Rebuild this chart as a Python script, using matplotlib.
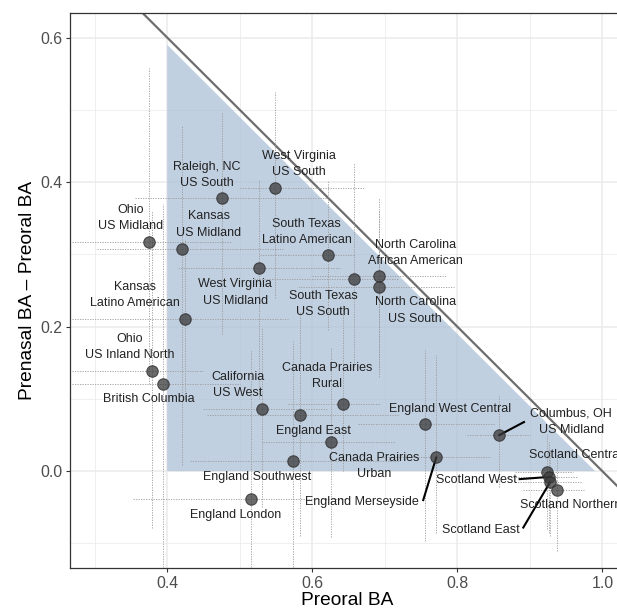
import matplotlib
matplotlib.use("Agg")
import matplotlib.pyplot as plt

plt.rcParams["font.family"] = ["Liberation Sans", "DejaVu Sans"]

# point labels and values (preoral BA, prenasal - preoral BA)
names = [
    "Ohio\nUS Midland", "Kansas\nUS Midland", "Raleigh, NC\nUS South",
    "West Virginia\nUS South", "West Virginia\nUS Midland",
    "South Texas\nLatino American", "South Texas\nUS South",
    "North Carolina\nAfrican American", "North Carolina\nUS South",
    "Kansas\nLatino American", "Ohio\nUS Inland North", "British Columbia",
    "California\nUS West", "England East", "Canada Prairies\nRural",
    "Canada Prairies\nUrban", "England Southwest", "England London",
    "England West Central", "England Merseyside", "Columbus, OH\nUS Midland",
    "Scotland Central", "Scotland West", "Scotland East", "Scotland Northern",
]
preoral = [0.375, 0.421, 0.476, 0.549, 0.527, 0.622, 0.658, 0.692, 0.692,
           0.425, 0.379, 0.394, 0.531, 0.583, 0.643, 0.626, 0.574, 0.516,
           0.756, 0.771, 0.858, 0.924, 0.926, 0.928, 0.937]
diff = [0.317, 0.307, 0.378, 0.392, 0.281, 0.299, 0.266, 0.270, 0.255,
        0.211, 0.139, 0.120, 0.086, 0.078, 0.093, 0.040, 0.014, -0.039,
        0.065, 0.019, 0.050, -0.001, -0.008, -0.015, -0.026]

# ranges shown as dotted crosshairs
x_lo = [0.269, 0.303, 0.356, 0.500, 0.415, 0.528, 0.520, 0.600, 0.580,
        0.269, 0.269, 0.269, 0.450, 0.455, 0.566, 0.532, 0.432, 0.353,
        0.663, 0.690, 0.814, 0.880, 0.870, 0.880, 0.890]
x_hi = [0.490, 0.560, 0.620, 0.673, 0.640, 0.657, 0.720, 0.786, 0.795,
        0.566, 0.450, 0.500, 0.620, 0.720, 0.694, 0.714, 0.720, 0.646,
        0.852, 0.846, 0.900, 0.960, 0.965, 0.970, 0.975]
y_lo = [0.120, 0.008, 0.190, 0.240, 0.100, 0.195, 0.140, 0.140, 0.130,
        0.100, -0.078, -0.132, -0.050, -0.090, 0.000, -0.091, -0.140, -0.140,
        -0.096, -0.086, -0.022, -0.080, -0.085, -0.090, -0.110]
y_hi = [0.558, 0.479, 0.497, 0.525, 0.403, 0.403, 0.427, 0.378, 0.360,
        0.320, 0.360, 0.370, 0.200, 0.220, 0.230, 0.170, 0.180, 0.168,
        0.168, 0.161, 0.105, 0.050, 0.040, 0.030, 0.020]

# where the labels sit (layout)
label_pos = [
    (0.349, 0.350), (0.457, 0.341), (0.455, 0.410), (0.582, 0.425),
    (0.494, 0.247), (0.592, 0.331), (0.615, 0.231), (0.742, 0.302),
    (0.742, 0.222), (0.356, 0.244), (0.348, 0.172), (0.374, 0.100),
    (0.497, 0.119), (0.601, 0.055), (0.621, 0.132), (0.686, 0.007),
    (0.524, -0.008), (0.494, -0.061), (0.790, 0.086), (0.668, -0.043),
    (0.957, 0.069), (0.963, 0.022), (0.826, -0.012), (0.832, -0.082),
    (0.956, -0.047),
]
# leader lines: label index -> end near the label
leaders = {20: (0.892, 0.068), 19: (0.753, -0.040),
           22: (0.886, -0.011), 23: (0.891, -0.078)}

# shaded region and the x + y = 1 boundary
tri_x = [0.4, 0.4, 0.99]
tri_y = [0.0, 0.59, 0.0]
line_x = [0.2, 1.2]

fig = plt.figure(figsize=(6.17, 6.15), dpi=100)
ax = fig.add_axes([0.1135, 0.0764, 0.898, 0.9025])
ax.set_xlim(0.266, 1.03)
ax.set_ylim(-0.134, 0.634)

ax.set_xticks([0.4, 0.6, 0.8, 1.0])
ax.set_yticks([0.0, 0.2, 0.4, 0.6])
ax.set_xticks([0.3, 0.5, 0.7, 0.9], minor=True)
ax.set_yticks([-0.1, 0.1, 0.3, 0.5], minor=True)
ax.set_xticklabels(["0.4", "0.6", "0.8", "1.0"])
ax.set_yticklabels(["0.0", "0.2", "0.4", "0.6"])
ax.grid(which="major", color="#ebebeb", linewidth=1.1, zorder=0)
ax.grid(which="minor", color="#ebebeb", linewidth=0.55, zorder=0)
ax.set_axisbelow(True)
ax.tick_params(which="major", length=2.75, width=0.8, color="#333333",
               labelsize=11.4, labelcolor="#4d4d4d", pad=3)
ax.tick_params(which="minor", length=0)
for s in ax.spines.values():
    s.set_color("#333333")
    s.set_linewidth(0.9)

ax.fill(tri_x, tri_y, color="#a9bfd6", alpha=0.72, lw=0, zorder=1)
ax.plot(line_x, [1 - v for v in line_x], color="#6e6e6e", lw=1.6, zorder=2)

for i in range(len(names)):
    ax.plot([x_lo[i], x_hi[i]], [diff[i], diff[i]], color="#9a9a9a",
            lw=0.6, ls=(0, (1.5, 1.5)), zorder=2)
    ax.plot([preoral[i], preoral[i]], [y_lo[i], y_hi[i]], color="#9a9a9a",
            lw=0.6, ls=(0, (1.5, 1.5)), zorder=2)

for i, end in leaders.items():
    ax.plot([preoral[i], end[0]], [diff[i], end[1]], color="black",
            lw=1.5, zorder=3)

ax.scatter(preoral, diff, s=68, color="#3a3a3a", alpha=0.75,
           edgecolors="#2a2a2a", linewidths=0.8, zorder=4)

for name, (lx, ly) in zip(names, label_pos):
    ax.text(lx, ly, name, fontsize=9, color="#222222", ha="center",
            va="center", linespacing=1.5, zorder=5)

ax.set_xlabel("Preoral BA", fontsize=13.8, labelpad=1)
ax.set_ylabel("Prenasal BA \u2013 Preoral BA", fontsize=13.8, labelpad=3)

fig.savefig("out.png", dpi=100)
